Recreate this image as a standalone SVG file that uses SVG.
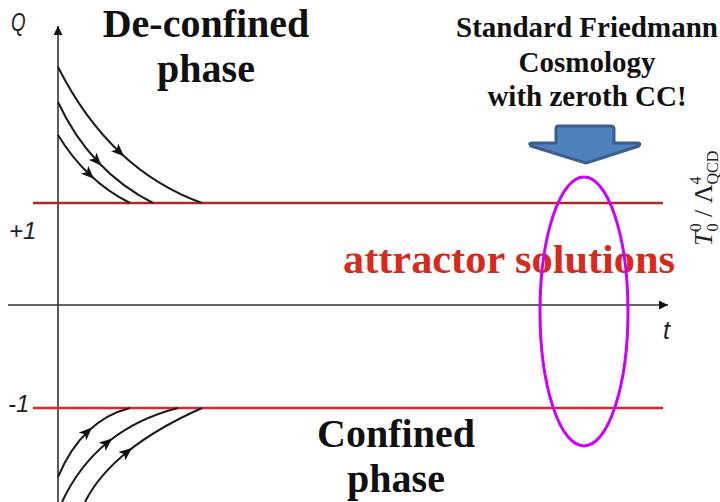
<svg xmlns="http://www.w3.org/2000/svg" width="720" height="502" viewBox="0 0 720 502">
<style>
.axis{stroke:#333;stroke-width:1.6;fill:none}
.traj{stroke:#1a1a1a;stroke-width:2;fill:none;marker-mid:url(#mid)}
.lbl{font-family:"Liberation Sans",Arial,sans-serif;font-style:italic;fill:#222}
.serif{font-family:"Liberation Serif","DejaVu Serif","Noto Serif",Tinos,"Times New Roman",serif}
.big{font-weight:bold;font-size:40px;fill:#111;text-anchor:middle}
.sm{font-weight:bold;font-size:29px;fill:#111;text-anchor:middle}
</style>
<defs>
<marker id="ah" viewBox="0 0 10 10" refX="10" refY="5" markerWidth="9" markerHeight="9" markerUnits="userSpaceOnUse" orient="auto"><path d="M0,0 L10,5 L0,10 z" fill="#111"/></marker>
<marker id="mid" viewBox="0 0 12 10" refX="7" refY="5" markerWidth="13" markerHeight="11" markerUnits="userSpaceOnUse" orient="auto"><path d="M0,0 L12,5 L0,10 L3,5 z" fill="#111"/></marker>
</defs>
<rect width="720" height="502" fill="#fff"/>
<g id="connectors">
<line class="axis" x1="58" y1="502" x2="58" y2="26" marker-end="url(#ah)"/>
<line class="axis" x1="8" y1="305" x2="668" y2="305" marker-end="url(#ah)"/>
<line x1="33" y1="203" x2="663" y2="203" stroke="#b5262a" stroke-width="2.5"/>
<line x1="33" y1="408" x2="663" y2="408" stroke="#e0242c" stroke-width="2.5"/>
<path class="traj" d="M58,67 Q84,118.5 120,152.5 Q156,186.5 202,203"/>
<path class="traj" d="M58,102 Q74,136.5 97.75,161.75 Q121.5,187 153,203"/>
<path class="traj" d="M58,135 Q72,158 90,175 Q108,192 130,203"/>
<path class="traj" d="M58,477 Q70,448.5 88,431.25 Q106,414 130,408"/>
<path class="traj" d="M62,502 Q79,465.5 108,442 Q137,418.5 178,408"/>
<path class="traj" d="M85,502 Q98.5,475 127.75,451.5 Q157,428 202,408"/>
</g>
<g id="axis-labels">
<text class="lbl" transform="translate(11,31) scale(0.72,1)" style="font-size:26px">Q</text>
<text class="lbl" x="9" y="239" style="font-size:24px">+1</text>
<text class="lbl" x="8" y="412" style="font-size:24px">-1</text>
<text class="lbl" x="663" y="339" style="font-size:25px">t</text>
</g>
<g id="deconfined"><text class="serif big" x="206" y="37">De-confined</text><text class="serif big" x="206" y="82">phase</text></g>
<g id="confined"><text class="serif big" x="396" y="447">Confined</text><text class="serif big" x="396" y="492">phase</text></g>
<g id="attractor"><text class="serif" x="509" y="273" font-weight="bold" font-size="40" fill="#d9281c" text-anchor="middle" textLength="332" lengthAdjust="spacingAndGlyphs">attractor solutions</text></g>
<g id="friedmann"><text class="serif sm" x="587" y="37">Standard Friedmann</text><text class="serif sm" x="587" y="72">Cosmology</text><text class="serif sm" x="587" y="106">with zeroth CC!</text></g>
<g id="blue-arrow"><path d="M558,126 L611,126 Q614,126 614,129 L614,143 L638,143 Q641,143 639,146 L586,163 L531,146 Q528,143 532,143 L556,143 L556,129 Q556,126 558,126 z" fill="#4f81bd" stroke="#3a5f8f" stroke-width="3" stroke-linejoin="round"/></g>
<g id="ellipse"><ellipse cx="584" cy="311.5" rx="44" ry="134.5" fill="none" stroke="#cc00ff" stroke-width="3"/></g>
<g id="side-label"><text class="serif" transform="translate(712,246) rotate(-90)" font-size="26" fill="#222"><tspan font-style="italic">T</tspan><tspan font-size="16" dy="-11">0</tspan><tspan font-size="16" dx="-8" dy="17">0</tspan><tspan dy="-6"> / Λ</tspan><tspan font-size="16" dy="-11">4</tspan><tspan font-size="16" dx="-8" dy="17">QCD</tspan></text></g>
</svg>
